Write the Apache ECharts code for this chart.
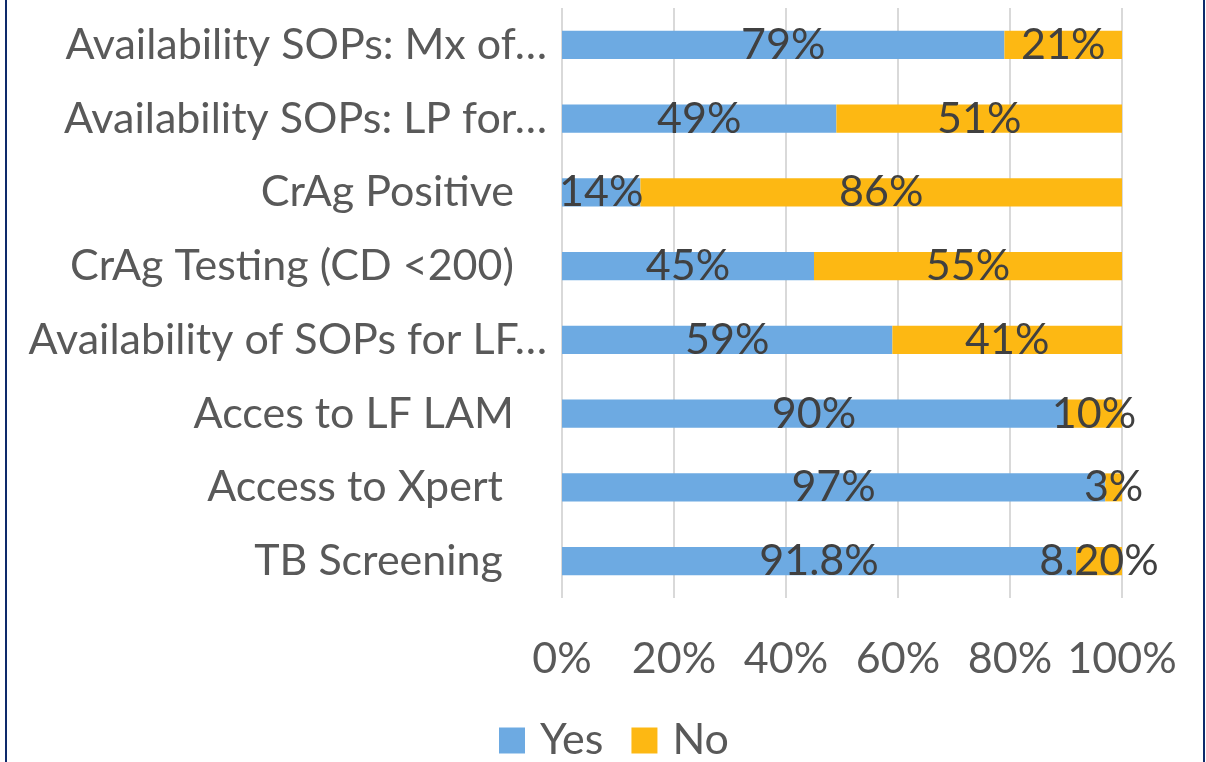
<!DOCTYPE html>
<html>
<head>
<meta charset="utf-8">
<script src="https://cdn.jsdelivr.net/npm/echarts@6/dist/echarts.min.js"></script>
<style>
html,body{margin:0;padding:0;background:#fff;}
#c{width:1206px;height:762px;}
</style>
</head>
<body>
<div id="c"></div>
<script>
var categories = [
  "Availability SOPs: Mx of\u2026",
  "Availability SOPs: LP for\u2026",
  "CrAg Positive   ",
  "CrAg Testing (CD <200)   ",
  "Availability of SOPs for LF\u2026",
  "Acces to LF LAM   ",
  "Access to Xpert    ",
  "TB Screening    "
];
var yesValues = [79, 49, 14, 45, 59, 90, 97, 91.8];
var noValues  = [21, 51, 86, 55, 41, 10, 3, 8.2];
var yesLabels = ["79%", "49%", "14%", "45%", "59%", "90%", "97%", "91.8%"];
var noLabels  = ["21%", "51%", "86%", "55%", "41%", "10%", "3%", "8.20%"];
var xTicks = [0, 20, 40, 60, 80, 100];

var FONT = "Lato";
var FS = 43;
var chart = echarts.init(document.getElementById('c'), null, {renderer: 'canvas'});
chart.setOption({
  animation: false,
  backgroundColor: '#ffffff',
  grid: {left: 562, right: 84, top: 8, bottom: 164, containLabel: false},
  legend: {
    data: ['Yes', 'No'],
    top: 719,
    left: 499,
    padding: 0,
    itemWidth: 26,
    itemHeight: 26,
    itemGap: 28,
    icon: 'rect',
    textStyle: {fontFamily: FONT, fontSize: FS, color: '#595959', padding: [0, 0, 0, 10]}
  },
  xAxis: {
    type: 'value',
    min: xTicks[0],
    max: xTicks[xTicks.length - 1],
    interval: 20,
    axisLine: {show: false},
    axisTick: {show: false},
    splitLine: {show: true, lineStyle: {color: '#D9D9D9', width: 2}},
    axisLabel: {
      formatter: function (v) { return v + '%'; },
      fontFamily: FONT, fontSize: FS, color: '#595959', margin: 40
    }
  },
  yAxis: {
    type: 'category',
    data: categories,
    inverse: true,
    axisLine: {show: false},
    axisTick: {show: false},
    splitLine: {show: false},
    axisLabel: {fontFamily: FONT, fontSize: FS, color: '#595959', margin: 15}
  },
  series: [
    {
      name: 'Yes', type: 'bar', stack: 'total', data: yesValues,
      barCategoryGap: '62%',
      itemStyle: {color: '#6DAAE2'},
      label: {show: true, position: 'inside', fontFamily: FONT, fontSize: FS, color: '#404040',
        formatter: function (p) { return yesLabels[p.dataIndex]; }}
    },
    {
      name: 'No', type: 'bar', stack: 'total', data: noValues,
      barCategoryGap: '62%',
      itemStyle: {color: '#FDB813'},
      label: {show: true, position: 'inside', fontFamily: FONT, fontSize: FS, color: '#404040',
        formatter: function (p) { return noLabels[p.dataIndex]; }}
    }
  ],
  graphic: [
    {type: 'rect', left: 5, top: 0, shape: {width: 2, height: 762}, style: {fill: '#0E2A6B'}, silent: true},
    {type: 'rect', left: 1203, top: 0, shape: {width: 2, height: 762}, style: {fill: '#0E2A6B'}, silent: true}
  ]
});
</script>
</body>
</html>
